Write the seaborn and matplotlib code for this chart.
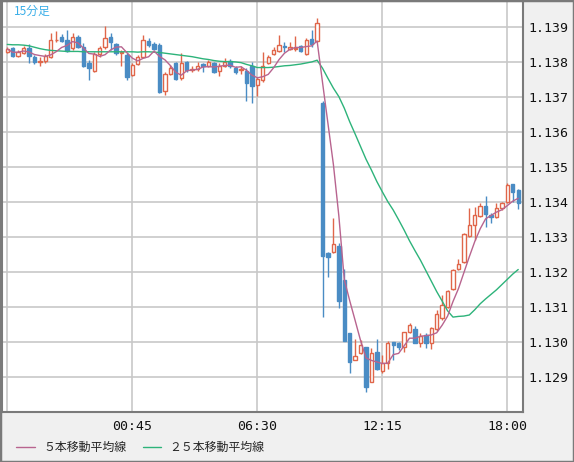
import numpy as np
import pandas as pd
import matplotlib
matplotlib.use("Agg")
import matplotlib.pyplot as plt
import seaborn as sns
from matplotlib.lines import Line2D
from matplotlib.patches import Rectangle

# 15-minute EUR-like candles (t=0 is 19:00)
opens = [1.13828, 1.13842, 1.13818, 1.13826, 1.13842, 1.13816, 1.13802, 1.13803, 1.13814, 1.13863,
         1.13873, 1.13864, 1.13840, 1.13873, 1.13845, 1.13799, 1.13776, 1.13824, 1.13843, 1.13873,
         1.13852, 1.13827, 1.13821, 1.13764, 1.13794, 1.13816, 1.13862, 1.13851, 1.13850, 1.13719,
         1.13767, 1.13797, 1.13754, 1.13801, 1.13779, 1.13781, 1.13795, 1.13790, 1.13797, 1.13775,
         1.13790, 1.13804, 1.13785, 1.13779, 1.13776, 1.13788, 1.13735, 1.13750, 1.13797, 1.13824,
         1.13833, 1.13847, 1.13837, 1.13838, 1.13847, 1.13824, 1.13866, 1.13862, 1.13685, 1.13254,
         1.13257, 1.13275, 1.13178, 1.13026, 1.12950, 1.12970, 1.12986, 1.12886, 1.12971, 1.12919,
         1.12940, 1.13002, 1.12997, 1.12988, 1.13030, 1.13037, 1.12999, 1.13021, 1.12997, 1.13037,
         1.13069, 1.13100, 1.13151, 1.13209, 1.13230, 1.13305, 1.13335, 1.13361, 1.13390, 1.13364,
         1.13357, 1.13383, 1.13400, 1.13451, 1.13435]
highs = [1.13845, 1.13845, 1.13835, 1.13847, 1.13851, 1.13821, 1.13816, 1.13823, 1.13883, 1.13888,
         1.13880, 1.13892, 1.13883, 1.13878, 1.13854, 1.13807, 1.13830, 1.13847, 1.13904, 1.13883,
         1.13856, 1.13835, 1.13826, 1.13797, 1.13821, 1.13878, 1.13869, 1.13859, 1.13854, 1.13773,
         1.13792, 1.13802, 1.13826, 1.13804, 1.13788, 1.13802, 1.13797, 1.13807, 1.13802, 1.13797,
         1.13811, 1.13809, 1.13790, 1.13788, 1.13783, 1.13802, 1.13759, 1.13830, 1.13821, 1.13845,
         1.13878, 1.13859, 1.13859, 1.13875, 1.13850, 1.13869, 1.13892, 1.13926, 1.13690, 1.13259,
         1.13354, 1.13285, 1.13209, 1.13026, 1.13009, 1.13007, 1.12986, 1.12983, 1.13010, 1.12964,
         1.13005, 1.13002, 1.13002, 1.13030, 1.13056, 1.13047, 1.13028, 1.13028, 1.13045, 1.13092,
         1.13135, 1.13150, 1.13209, 1.13237, 1.13311, 1.13385, 1.13388, 1.13397, 1.13418, 1.13370,
         1.13399, 1.13400, 1.13454, 1.13452, 1.13437]
lows = [1.13826, 1.13814, 1.13816, 1.13823, 1.13799, 1.13795, 1.13788, 1.13797, 1.13811, 1.13859,
        1.13859, 1.13830, 1.13835, 1.13840, 1.13786, 1.13750, 1.13773, 1.13816, 1.13837, 1.13835,
        1.13821, 1.13789, 1.13748, 1.13761, 1.13792, 1.13814, 1.13845, 1.13835, 1.13713, 1.13707,
        1.13764, 1.13750, 1.13750, 1.13773, 1.13773, 1.13776, 1.13773, 1.13787, 1.13769, 1.13761,
        1.13787, 1.13783, 1.13767, 1.13767, 1.13690, 1.13683, 1.13705, 1.13745, 1.13795, 1.13821,
        1.13830, 1.13828, 1.13835, 1.13833, 1.13830, 1.13821, 1.13845, 1.13859, 1.13073, 1.13186,
        1.13254, 1.13097, 1.13005, 1.12911, 1.12950, 1.12968, 1.12859, 1.12886, 1.12921, 1.12911,
        1.12923, 1.12950, 1.12978, 1.12973, 1.13026, 1.12997, 1.12988, 1.12983, 1.12981, 1.13033,
        1.13064, 1.13097, 1.13150, 1.13207, 1.13226, 1.13302, 1.13293, 1.13359, 1.13329, 1.13342,
        1.13354, 1.13378, 1.13397, 1.13402, 1.13380]
closes = [1.13838, 1.13819, 1.13830, 1.13842, 1.13818, 1.13802, 1.13804, 1.13818, 1.13864, 1.13864,
          1.13862, 1.13833, 1.13873, 1.13845, 1.13790, 1.13785, 1.13824, 1.13840, 1.13870, 1.13857,
          1.13826, 1.13828, 1.13757, 1.13792, 1.13816, 1.13864, 1.13850, 1.13838, 1.13716, 1.13767,
          1.13783, 1.13753, 1.13797, 1.13778, 1.13780, 1.13790, 1.13788, 1.13802, 1.13773, 1.13790,
          1.13802, 1.13790, 1.13773, 1.13781, 1.13740, 1.13733, 1.13752, 1.13788, 1.13814, 1.13835,
          1.13850, 1.13843, 1.13843, 1.13842, 1.13833, 1.13864, 1.13852, 1.13913, 1.13248, 1.13245,
          1.13280, 1.13119, 1.13005, 1.12945, 1.12962, 1.12993, 1.12871, 1.12970, 1.12923, 1.12940,
          1.12999, 1.12992, 1.12988, 1.13030, 1.13050, 1.12999, 1.13019, 1.12997, 1.13040, 1.13081,
          1.13107, 1.13148, 1.13207, 1.13223, 1.13309, 1.13335, 1.13364, 1.13390, 1.13366, 1.13357,
          1.13383, 1.13397, 1.13450, 1.13430, 1.13397]
ma25 = [1.13851, 1.13850, 1.13850, 1.13849, 1.13847, 1.13843, 1.13839, 1.13836, 1.13834, 1.13833,
        1.13832, 1.13831, 1.13831, 1.13831, 1.13830, 1.13830, 1.13830, 1.13830, 1.13830, 1.13830,
        1.13830, 1.13830, 1.13830, 1.13830, 1.13829, 1.13830, 1.13830, 1.13829, 1.13828, 1.13826,
        1.13824, 1.13822, 1.13820, 1.13818, 1.13816, 1.13813, 1.13810, 1.13808, 1.13805, 1.13803,
        1.13802, 1.13802, 1.13801, 1.13799, 1.13794, 1.13790, 1.13785, 1.13785, 1.13785, 1.13786,
        1.13788, 1.13790, 1.13791, 1.13793, 1.13795, 1.13798, 1.13801, 1.13806, 1.13783, 1.13754,
        1.13726, 1.13702, 1.13669, 1.13630, 1.13595, 1.13559, 1.13523, 1.13492, 1.13459, 1.13430,
        1.13402, 1.13378, 1.13350, 1.13321, 1.13290, 1.13262, 1.13235, 1.13205, 1.13175, 1.13145,
        1.13118, 1.13090, 1.13072, 1.13074, 1.13075, 1.13078, 1.13093, 1.13110, 1.13124, 1.13137,
        1.13150, 1.13165, 1.13180, 1.13195, 1.13208]

tick_pos = [0, 23, 46, 69, 92]
tick_labels = ["", "00:45", "06:30", "12:15", "18:00"]
price_ticks = [1.129, 1.130, 1.131, 1.132, 1.133, 1.134, 1.135, 1.136, 1.137, 1.138, 1.139]

df = pd.DataFrame({"open": opens, "high": highs, "low": lows, "close": closes, "ma25": ma25})
df["t"] = np.arange(len(df))
df["ma5"] = df["close"].rolling(5, min_periods=1).mean()
up = df["close"] >= df["open"]

RED = "#e0664a"
BLUE = "#4a8cc4"
PURPLE = "#b8648f"
GREEN = "#2db37a"

sns.set_style("white")
plt.rcParams["font.family"] = ["Noto Sans CJK JP", "DejaVu Sans"]

fig = plt.figure(figsize=(5.74, 4.62), dpi=100, facecolor="#f0f0f0")
ax = fig.add_axes([2 / 574, 50 / 462, 521 / 574, 411 / 462])
ax.set_facecolor("white")

ax.set_xlim(-0.975, 94.88)
ax.set_ylim(1.128009, 1.139751)
ax.set_xticks(tick_pos)
ax.set_xticklabels(tick_labels)
ax.set_yticks(price_ticks)
ax.set_yticklabels([f"{p:.3f}" for p in price_ticks])
ax.yaxis.tick_right()
ax.grid(True, color="#c8c8c8", lw=1.2)
ax.set_axisbelow(True)
ax.tick_params(length=0, labelsize=9.5, colors="#111111")
ax.tick_params(axis="y", pad=4)
ax.tick_params(axis="x", pad=6)
for lab in ax.get_xticklabels() + ax.get_yticklabels():
    lab.set_family("DejaVu Sans Mono")
for s in ax.spines.values():
    s.set_color("#7a7a7a")
    s.set_linewidth(1.5)

# wicks
ax.vlines(df["t"][up], df["low"][up], df["high"][up], color=RED, lw=1, zorder=2)
ax.vlines(df["t"][~up], df["low"][~up], df["high"][~up], color=BLUE, lw=1, zorder=2)
# bodies
ax.bar(df["t"][up], (df["close"] - df["open"])[up], bottom=df["open"][up], width=0.62,
       facecolor="white", edgecolor=RED, lw=1, zorder=3)
ax.bar(df["t"][~up], (df["close"] - df["open"])[~up], bottom=df["open"][~up], width=0.62,
       facecolor=BLUE, edgecolor=BLUE, lw=1, zorder=3)

sns.lineplot(data=df, x="t", y="ma25", color=GREEN, lw=1, ax=ax, zorder=4)
sns.lineplot(data=df, x="t", y="ma5", color=PURPLE, lw=1, ax=ax, zorder=5)
ax.set_xlabel("")
ax.set_ylabel("")

ax.text(0.023, 0.99, "15分足", transform=ax.transAxes, ha="left", va="top",
        fontsize=8.5, color="#3aaee8")

handles = [Line2D([], [], color=PURPLE, lw=1), Line2D([], [], color=GREEN, lw=1)]
fig.legend(handles, ["５本移動平均線", "２５本移動平均線"], loc="center left",
           bbox_to_anchor=(0.024, 0.032), ncol=2, frameon=False, fontsize=8.6,
           handlelength=1.55, handletextpad=0.7, columnspacing=1.4,
           borderaxespad=0, borderpad=0.2)

fig.patches.append(Rectangle((0, 0), 1, 1, transform=fig.transFigure, fill=False,
                             edgecolor="#7a7a7a", lw=2.5))

fig.savefig("out.png", dpi=100, facecolor=fig.get_facecolor())
